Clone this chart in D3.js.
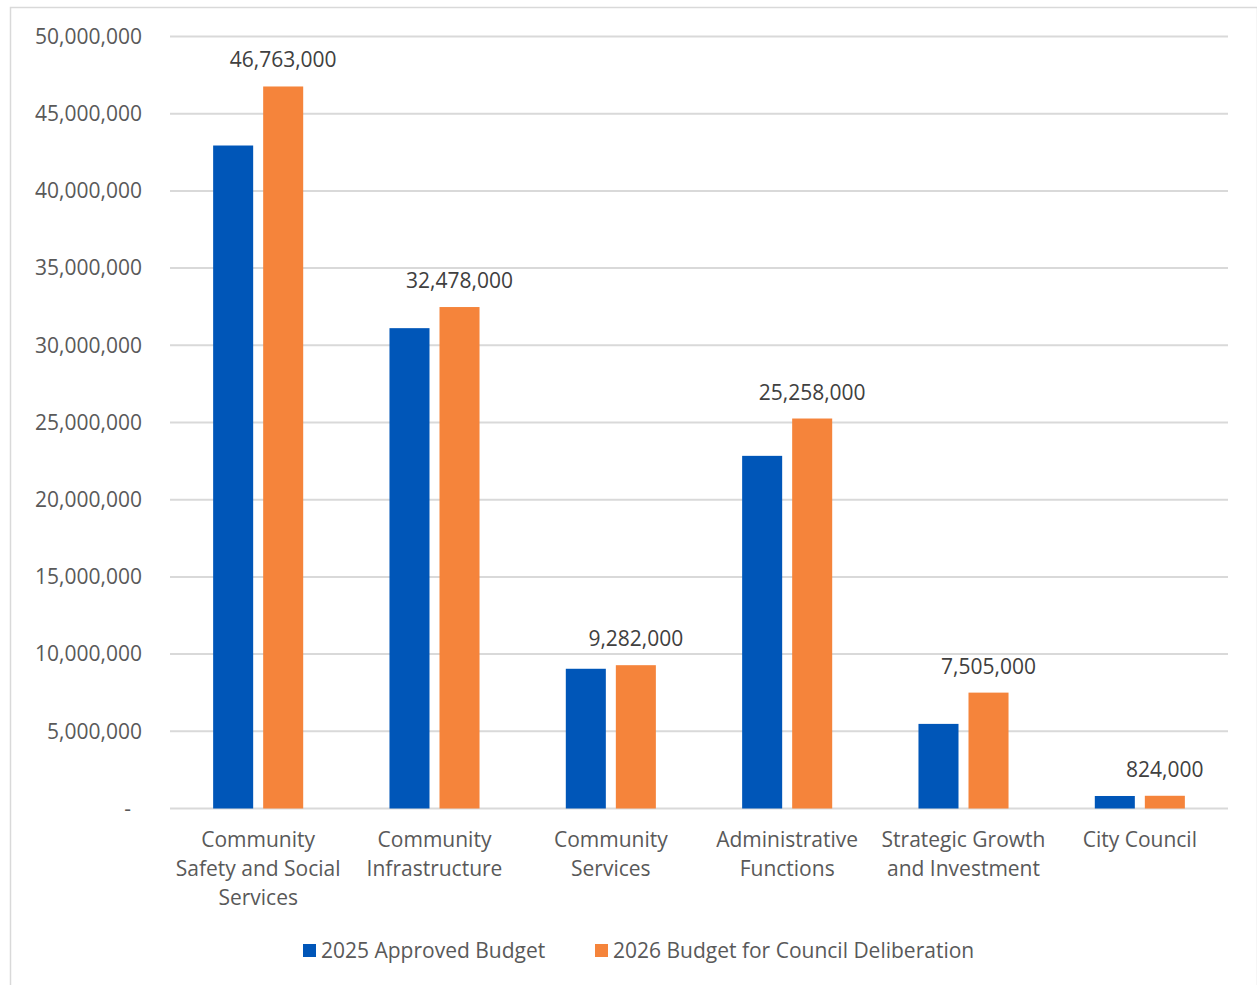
<!DOCTYPE html>
<html>
<head>
<meta charset="utf-8">
<script src="https://cdn.jsdelivr.net/npm/d3@7"></script>
<style>
  html, body { margin: 0; padding: 0; background: #fff; }
  svg { display: block; font-family: "Open Sans", "Noto Sans", sans-serif; }
</style>
</head>
<body>
<svg id="chart" width="1257" height="985"></svg>
<script>
// Budget by service area
const categories = [
  ["Community", "Safety and Social", "Services"],
  ["Community", "Infrastructure"],
  ["Community", "Services"],
  ["Administrative", "Functions"],
  ["Strategic Growth", "and Investment"],
  ["City Council"]
];
const budget2025 = [42940000, 31110000, 9050000, 22840000, 5480000, 810000];
const budget2026 = [46763000, 32478000, 9282000, 25258000, 7505000, 824000];
const seriesNames = ["2025 Approved Budget", "2026 Budget for Council Deliberation"];
const seriesColors = ["#0056b8", "#f5843b"];
const yTicks = [0, 5000000, 10000000, 15000000, 20000000, 25000000, 30000000, 35000000, 40000000, 45000000, 50000000];

const svg = d3.select("#chart");
const W = 1257, H = 985;
const margin = { left: 170, right: 29, top: 36.5, bottom: 176.5 };
const textColor = "#595959";
const fontSize = "21px";

// outer frame
svg.append("rect")
  .attr("x", 10.5).attr("y", 7.5)
  .attr("width", W - 10).attr("height", H)
  .attr("fill", "none").attr("stroke", "#d9d9d9").attr("stroke-width", 1.5);

const x0 = d3.scaleBand()
  .domain(d3.range(categories.length))
  .range([margin.left, W - margin.right])
  .paddingInner(0).paddingOuter(0);

const groupW = x0.bandwidth();
const barW = groupW * 0.227;
const gap = 10;

const y = d3.scaleLinear().domain([0, 50000000]).range([H - margin.bottom, margin.top]);

// gridlines
svg.append("g").selectAll("line")
  .data(yTicks)
  .join("line")
  .attr("x1", margin.left).attr("x2", W - margin.right)
  .attr("y1", d => y(d)).attr("y2", d => y(d))
  .attr("stroke", "#d9d9d9").attr("stroke-width", 2);

// y axis labels (accounting style: zero shown as a dash)
const fmt = d3.format(",");
const yAxis = d3.axisLeft(y).tickValues(yTicks)
  .tickFormat(d => d === 0 ? "-" : fmt(d))
  .tickSize(0).tickPadding(28);
const yg = svg.append("g").attr("transform", `translate(${margin.left},0)`).call(yAxis);
yg.select(".domain").remove();
yg.selectAll("text")
  .attr("fill", textColor)
  .attr("dx", d => d === 0 ? -11 : 0)
  .style("font-size", fontSize)
  .style("font-family", "'Open Sans', sans-serif");

// bars
const series = [budget2025, budget2026];
series.forEach((vals, si) => {
  svg.append("g").selectAll("rect")
    .data(vals)
    .join("rect")
    .attr("x", (d, i) => x0(i) + groupW / 2 + (si === 0 ? -gap / 2 - barW : gap / 2))
    .attr("y", d => y(d))
    .attr("width", barW)
    .attr("height", d => y(0) - y(d))
    .attr("fill", seriesColors[si]);
});

// value labels on 2026 bars
svg.append("g").selectAll("text")
  .data(budget2026)
  .join("text")
  .attr("x", (d, i) => x0(i) + groupW / 2 + gap / 2 + barW / 2)
  .attr("y", d => y(d) - 19)
  .attr("text-anchor", "middle")
  .attr("fill", "#404040")
  .style("font-size", fontSize)
  .text(d => fmt(d));

// category labels
const catG = svg.append("g");
categories.forEach((lines, i) => {
  const t = catG.append("text")
    .attr("x", x0(i) + groupW / 2)
    .attr("y", 847)
    .attr("text-anchor", "middle")
    .attr("fill", textColor)
    .style("font-size", fontSize);
  lines.forEach((ln, k) => {
    t.append("tspan").attr("x", x0(i) + groupW / 2).attr("y", 847 + k * 29).text(ln);
  });
});

// legend
const legendX = [303, 595];
const lg = svg.append("g");
seriesNames.forEach((name, i) => {
  lg.append("rect")
    .attr("x", legendX[i]).attr("y", 944)
    .attr("width", 13).attr("height", 13)
    .attr("fill", seriesColors[i]);
  lg.append("text")
    .attr("x", legendX[i] + 18).attr("y", 958)
    .attr("fill", textColor)
    .style("font-size", fontSize)
    .text(name);
});
</script>
</body>
</html>
